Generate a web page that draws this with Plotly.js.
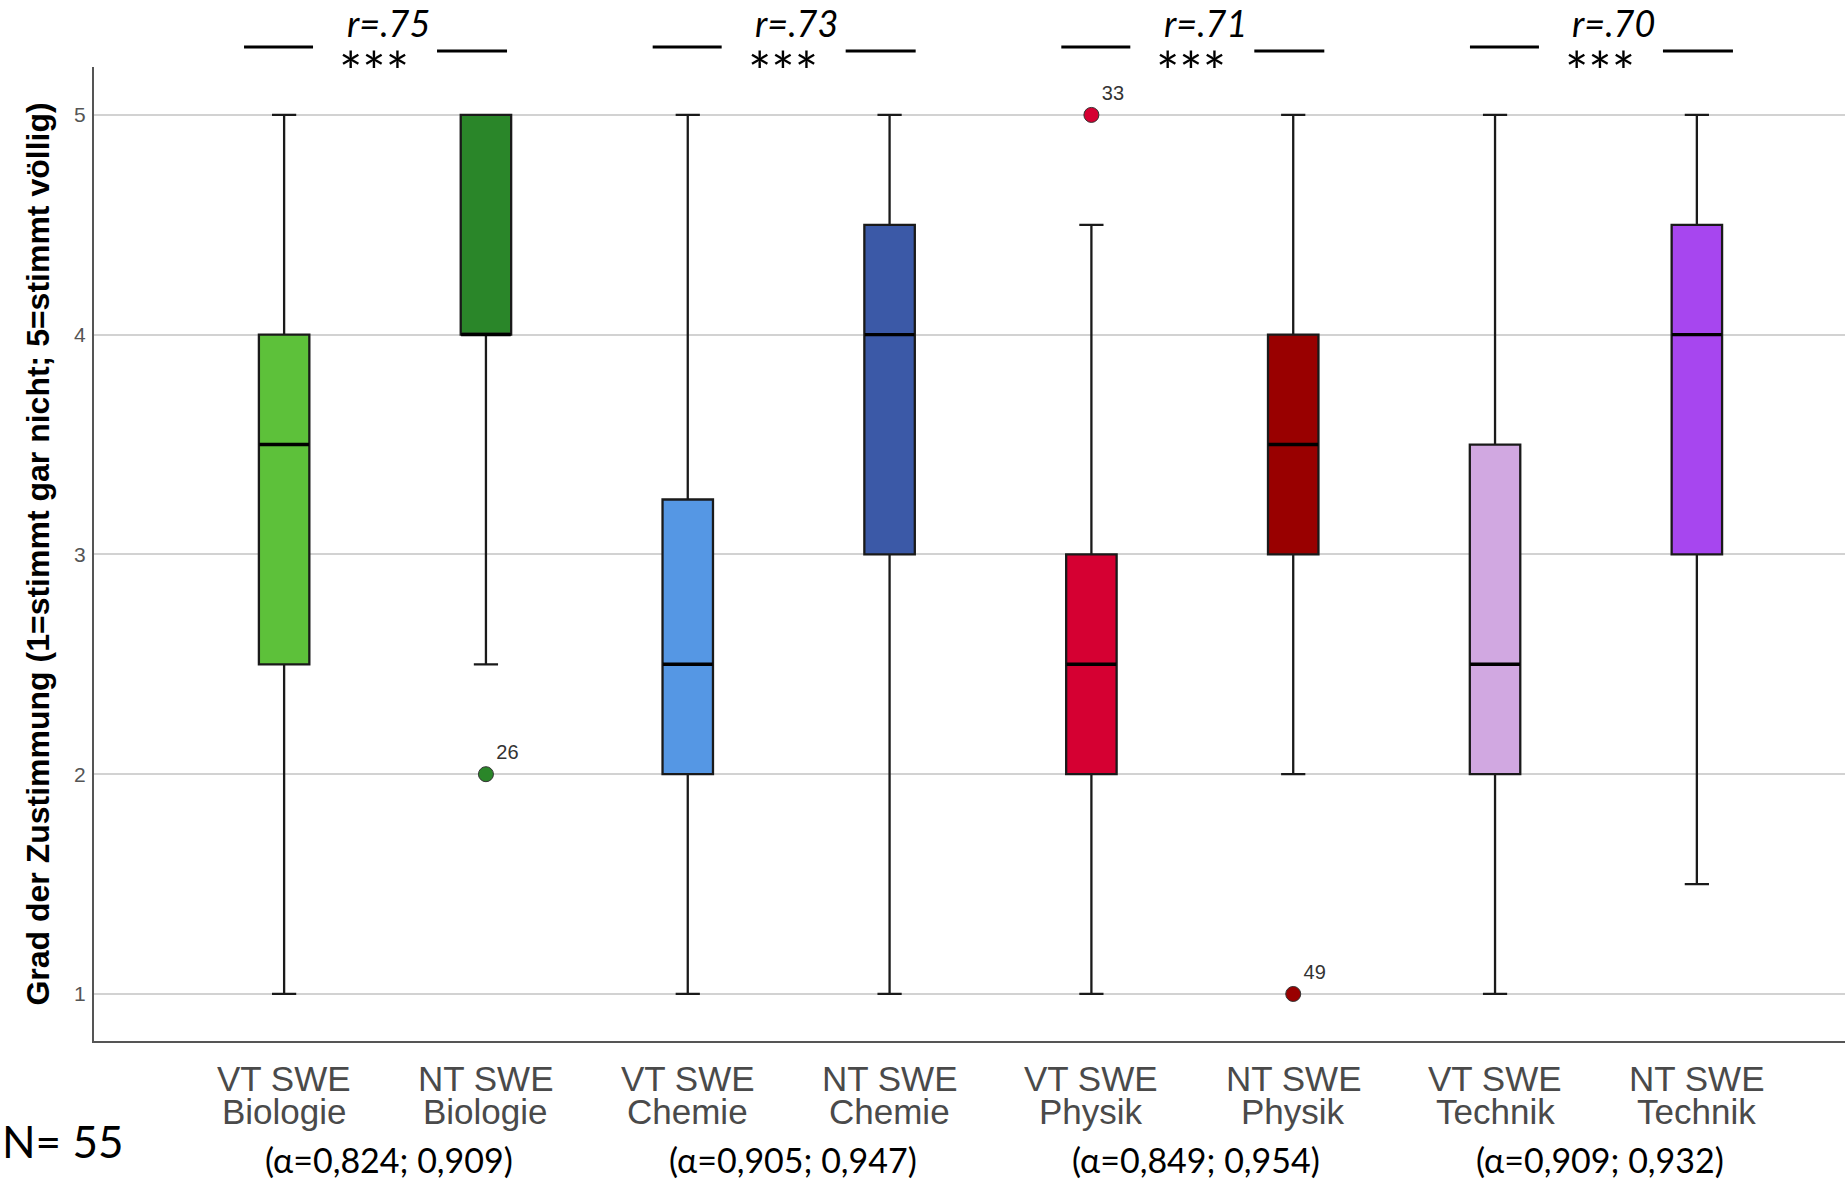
<!DOCTYPE html>
<html><head><meta charset="utf-8">
<script src="https://cdn.plot.ly/plotly-3.0.1.min.js"></script>
<style>html,body{margin:0;padding:0;background:#fff}#chart{width:1845px;height:1188px}</style>
</head><body><div id="chart"></div>
<script>
// ---- data ----
const conditions = ["VT SWE","NT SWE","VT SWE","NT SWE","VT SWE","NT SWE","VT SWE","NT SWE"];
const subjects = ["Biologie","Biologie","Chemie","Chemie","Physik","Physik","Technik","Technik"];
const lowerWhisker = [1, 2.5, 1, 1, 1, 2, 1, 1.5];
const q1 = [2.5, 4, 2, 3, 2, 3, 2, 3];
const median = [3.5, 4, 2.5, 4, 2.5, 3.5, 2.5, 4];
const q3 = [4, 5, 3.25, 4.5, 3, 4, 3.5, 4.5];
const upperWhisker = [5, 5, 5, 5, 4.5, 5, 5, 5];
const boxColors = ["#5dc13a","#2a8629","#5597e4","#3b59a7","#d50032","#990000","#d1a8e1","#a746ef"];
const outlierBox = [1, 4, 5];
const outlierValue = [2, 5, 1];
const outlierCase = ["26","33","49"];
const pairEffect = ["r=.75","r=.73","r=.71","r=.70"];
const pairSignif = ["***","***","***","***"];
const pairAlpha = ["(α=0,824; 0,909)","(α=0,905; 0,947)","(α=0,849; 0,954)","(α=0,909; 0,932)"];
const yTicks = [1, 2, 3, 4, 5];
const yTitle = "Grad der Zustimmung (1=stimmt gar nicht; 5=stimmt völlig)";
const sampleNote = "N= 55";

// ---- traces ----
const traces = [];
const idx = conditions.map((c, i) => i);
conditions.forEach((c, i) => {
  traces.push({
    type: "box",
    x: [i],
    q1: [q1[i]], median: [median[i]], q3: [q3[i]],
    lowerfence: [lowerWhisker[i]], upperfence: [upperWhisker[i]],
    width: 0.25,
    whiskerwidth: 0.48,
    fillcolor: boxColors[i],
    line: { color: "#1a1a1a", width: 2.3 },
    boxpoints: false,
    hoverinfo: "skip",
    showlegend: false,
    name: c + " " + subjects[i]
  });
});
// thicker median strokes, drawn at the median values
traces.push({
  type: "scatter", mode: "markers", x: idx, y: median,
  marker: { symbol: "line-ew", size: 35.5, color: "#000", line: { color: "#000", width: 3.4 } },
  showlegend: false, hoverinfo: "skip"
});
outlierBox.forEach((b, k) => {
  traces.push({
    type: "scatter",
    mode: "markers+text",
    x: [b], y: [outlierValue[k]],
    text: [outlierCase[k]],
    textposition: "top right",
    textfont: { family: "Liberation Sans, Arial, sans-serif", size: 20, color: "#333" },
    marker: { size: 15, color: boxColors[b], line: { color: "#333", width: 1 } },
    showlegend: false,
    hoverinfo: "skip",
    cliponaxis: false
  });
});

// ---- annotations ----
const ann = [];
const labFont = { family: "Liberation Sans, Arial, sans-serif", size: 35, color: "#4a4a4a" };
const calFont = { family: "Lato, sans-serif", size: 34, color: "#000" };
conditions.forEach((c, i) => {
  ann.push({ x: i, xref: "x", y: 0, yref: "paper", yanchor: "middle", yshift: -37, text: c, showarrow: false, font: labFont });
  ann.push({ x: i, xref: "x", y: 0, yref: "paper", yanchor: "middle", yshift: -70, text: subjects[i], showarrow: false, font: labFont });
});
const shapes = [];
pairEffect.forEach((r, k) => {
  const mid = 2 * k + 0.5;
  const drift = -6 + 5 * k;
  ann.push({ x: mid, xref: "x", xshift: 9 + drift, y: 1, yref: "paper", yanchor: "middle", yshift: 44, text: "<i>" + r + "</i>", showarrow: false, font: { family: "Lato, sans-serif", size: 36, color: "#000" } });
  ann.push({ x: mid, xref: "x", xshift: -5 + drift, y: 1, yref: "paper", yanchor: "middle", yshift: -3, text: pairSignif[k], showarrow: false, font: { family: "Lato, sans-serif", size: 55, color: "#000" } });
  ann.push({ x: mid, xref: "x", xshift: 4, y: 0, yref: "paper", yanchor: "middle", yshift: -118, text: pairAlpha[k], showarrow: false, font: calFont });
  shapes.push({ type: "line", xref: "x", xsizemode: "pixel", xanchor: mid, x0: -135 + drift, x1: -66 + drift,
    yref: "paper", ysizemode: "pixel", yanchor: 1, y0: 20, y1: 20, line: { color: "#000", width: 3 } });
  shapes.push({ type: "line", xref: "x", xsizemode: "pixel", xanchor: mid, x0: 58 + drift, x1: 128 + drift,
    yref: "paper", ysizemode: "pixel", yanchor: 1, y0: 16, y1: 16, line: { color: "#000", width: 3 } });
});
ann.push({ x: 0, xref: "paper", xanchor: "left", xshift: -94, y: 0, yref: "paper", yanchor: "middle", yshift: -100, text: sampleNote, showarrow: false, font: { family: "Lato, sans-serif", size: 44, color: "#000" } });

const layout = {
  width: 1845, height: 1188,
  margin: { l: 94, r: 0, t: 67, b: 147 },
  paper_bgcolor: "#fff", plot_bgcolor: "#fff",
  boxmode: "overlay",
  showlegend: false,
  xaxis: {
    range: [-0.942, 7.734], showticklabels: false, showgrid: false, zeroline: false,
    showline: true, linecolor: "#555", linewidth: 2, ticks: "", fixedrange: true
  },
  yaxis: {
    range: [0.786, 5.218], tickvals: yTicks, ticktext: yTicks.map(String),
    tickfont: { family: "Liberation Sans, Arial, sans-serif", size: 21, color: "#555" },
    ticklabelstandoff: 2,
    showgrid: true, gridcolor: "#d2d2d2", gridwidth: 2, zeroline: false,
    showline: true, linecolor: "#555", linewidth: 2, ticks: "",
    title: { text: yTitle, font: { family: "Liberation Sans, Arial, sans-serif", size: 32, color: "#000", weight: "bold" }, standoff: 15 }
  },
  annotations: ann,
  shapes: shapes
};
Plotly.newPlot("chart", traces, layout, { displayModeBar: false, staticPlot: true });
</script></body></html>
